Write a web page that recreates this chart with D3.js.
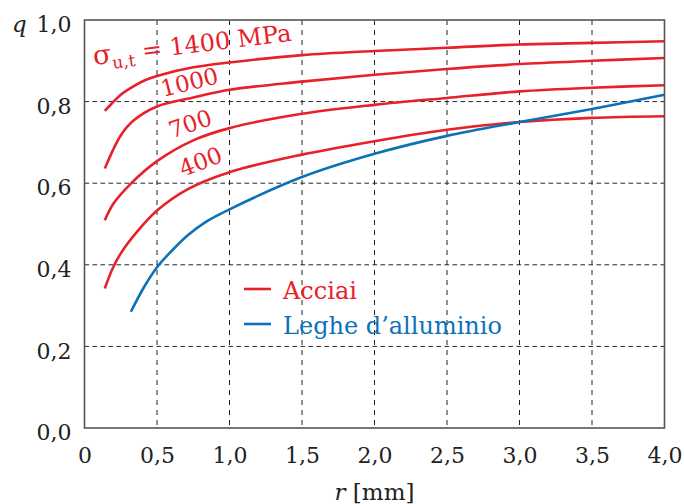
<!DOCTYPE html>
<html>
<head>
<meta charset="utf-8">
<script src="https://cdn.jsdelivr.net/npm/d3@7"></script>
<style>
  body { margin: 0; background: #fff; }
  text { font-family: "DejaVu Serif", serif; fill: #222; }
</style>
</head>
<body>
<div class="chart"></div>
<script>
// values (r in mm, q)
var r1400 = [0.14, 0.19, 0.25, 0.34, 0.42, 0.5, 0.75, 1.0, 1.5, 2.0, 2.5, 3.0, 3.5, 4.0];
var q1400 = [0.777, 0.796, 0.817, 0.838, 0.853, 0.863, 0.884, 0.896, 0.914, 0.924, 0.932, 0.940, 0.944, 0.948];

var r1000 = [0.14, 0.25, 0.34, 0.5, 0.75, 1.0, 1.5, 2.0, 2.5, 3.0, 3.5, 4.0];
var q1000 = [0.636, 0.717, 0.754, 0.788, 0.810, 0.829, 0.849, 0.866, 0.880, 0.892, 0.900, 0.907];

var r700 = [0.14, 0.2, 0.32, 0.5, 0.75, 1.0, 1.5, 2.0, 2.5, 3.0, 3.5, 4.0];
var q700 = [0.509, 0.550, 0.599, 0.654, 0.705, 0.735, 0.770, 0.792, 0.809, 0.825, 0.834, 0.840];

var r400 = [0.14, 0.19, 0.25, 0.36, 0.5, 0.71, 1.0, 1.5, 2.0, 2.5, 3.0, 3.5, 4.0];
var q400 = [0.342, 0.388, 0.428, 0.480, 0.533, 0.585, 0.627, 0.670, 0.703, 0.731, 0.750, 0.760, 0.764];

var rAl = [0.32, 0.41, 0.5, 0.59, 0.71, 0.84, 1.0, 1.5, 2.0, 2.5, 3.0, 3.5, 4.0];
var qAl = [0.285, 0.345, 0.394, 0.430, 0.472, 0.506, 0.536, 0.615, 0.672, 0.716, 0.750, 0.782, 0.817];

var xTicks = [0, 0.5, 1.0, 1.5, 2.0, 2.5, 3.0, 3.5, 4.0];
var yTicks = [0, 0.2, 0.4, 0.6, 0.8, 1.0];

var svgWidth = 684;
var svgHeight = 504;

var margin = { top: 20, right: 19.5, bottom: 76, left: 84.5 };
var width = svgWidth - margin.left - margin.right;
var height = svgHeight - margin.top - margin.bottom;

var red = "#e8202a";
var blue = "#0b72b9";

var svg = d3.select(".chart")
  .append("svg")
  .attr("width", svgWidth)
  .attr("height", svgHeight);

var chartGroup = svg.append("g")
  .attr("transform", `translate(${margin.left}, ${margin.top})`);

var xScale = d3.scaleLinear().domain([0, 4]).range([0, width]);
var yScale = d3.scaleLinear().domain([0, 1]).range([height, 0]);

var fmt = function(d) { return d3.format(".1f")(d).replace(".", ","); };

// dashed grid
chartGroup.append("g")
  .selectAll("line")
  .data(xTicks.slice(1, -1))
  .enter()
  .append("line")
  .attr("x1", d => xScale(d))
  .attr("x2", d => xScale(d))
  .attr("y1", 0)
  .attr("y2", height)
  .attr("stroke", "#222")
  .attr("stroke-width", 1)
  .attr("stroke-dasharray", "5,5");

chartGroup.append("g")
  .selectAll("line")
  .data(yTicks.slice(1, -1))
  .enter()
  .append("line")
  .attr("x1", 0)
  .attr("x2", width)
  .attr("y1", d => yScale(d))
  .attr("y2", d => yScale(d))
  .attr("stroke", "#222")
  .attr("stroke-width", 1)
  .attr("stroke-dasharray", "4.5,3.5");

// axes
var bottomAxis = d3.axisBottom(xScale)
  .tickValues(xTicks)
  .tickSize(0)
  .tickPadding(19)
  .tickFormat(d => d === 0 ? "0" : fmt(d));

var leftAxis = d3.axisLeft(yScale)
  .tickValues(yTicks)
  .tickSize(0)
  .tickPadding(13)
  .tickFormat(fmt);

var xAxis = chartGroup.append("g")
  .attr("transform", `translate(0, ${height})`)
  .call(bottomAxis);

var yAxis = chartGroup.append("g")
  .call(leftAxis);

[xAxis, yAxis].forEach(function(ax) {
  ax.select(".domain").remove();
  ax.selectAll("text")
    .attr("font-family", "DejaVu Serif")
    .attr("font-size", 22)
    .attr("fill", "#222");
});
yAxis.selectAll("text").attr("dy", "0.53em");

// curves
var line = d3.line()
  .x(d => xScale(d[0]))
  .y(d => yScale(d[1]))
  .curve(d3.curveCatmullRom.alpha(0.5));

var series = [
  { r: r1400, q: q1400, color: red },
  { r: r1000, q: q1000, color: red },
  { r: r700, q: q700, color: red },
  { r: r400, q: q400, color: red },
  { r: rAl, q: qAl, color: blue }
];

chartGroup.selectAll(".curve")
  .data(series)
  .enter()
  .append("path")
  .attr("class", "curve")
  .attr("fill", "none")
  .attr("stroke", d => d.color)
  .attr("stroke-width", 2.6)
  .attr("d", d => line(d.r.map((v, i) => [v, d.q[i]])));

// frame
chartGroup.append("rect")
  .attr("x", 0)
  .attr("y", 0)
  .attr("width", width)
  .attr("height", height)
  .attr("fill", "none")
  .attr("stroke", "#555")
  .attr("stroke-width", 1.6);

// curve labels
var lbl = svg.append("text")
  .attr("transform", "translate(94, 65) rotate(-7)")
  .attr("font-size", 24)
  .style("fill", red);
lbl.append("tspan").attr("font-size", 27).text("σ");
lbl.append("tspan").attr("font-size", 17).attr("dy", 6).text("u,t");
lbl.append("tspan").attr("dy", -6).text(" = 1400 MPa");

var smallLabels = [
  { t: "1000", x: 163, y: 97, a: -14 },
  { t: "700", x: 172, y: 138.5, a: -19 },
  { t: "400", x: 183, y: 177, a: -21 }
];

svg.selectAll(".clabel")
  .data(smallLabels)
  .enter()
  .append("text")
  .attr("class", "clabel")
  .attr("transform", d => `translate(${d.x}, ${d.y}) rotate(${d.a})`)
  .attr("font-size", 23)
  .style("fill", red)
  .text(d => d.t);

// legend
var legend = [
  { t: "Acciai", color: red, y: 289 },
  { t: "Leghe d\u2019alluminio", color: blue, y: 324 }
];

var lg = svg.selectAll(".legend")
  .data(legend)
  .enter()
  .append("g")
  .attr("class", "legend");

lg.append("line")
  .attr("x1", 244)
  .attr("x2", 271)
  .attr("y1", d => d.y)
  .attr("y2", d => d.y)
  .attr("stroke", d => d.color)
  .attr("stroke-width", 2.6);

lg.append("text")
  .attr("x", 283)
  .attr("y", d => d.y + 9.5)
  .attr("font-size", 24)
  .style("fill", d => d.color)
  .text(d => d.t);

// axis titles
svg.append("text")
  .attr("x", 12)
  .attr("y", 31.5)
  .attr("font-size", 23)
  .attr("font-style", "italic")
  .text("q");

var xt = svg.append("text")
  .attr("x", margin.left + width / 2)
  .attr("y", 500)
  .attr("text-anchor", "middle")
  .attr("font-size", 23);
xt.append("tspan").attr("font-style", "italic").text("r");
xt.append("tspan").text(" [mm]");
</script>
</body>
</html>
